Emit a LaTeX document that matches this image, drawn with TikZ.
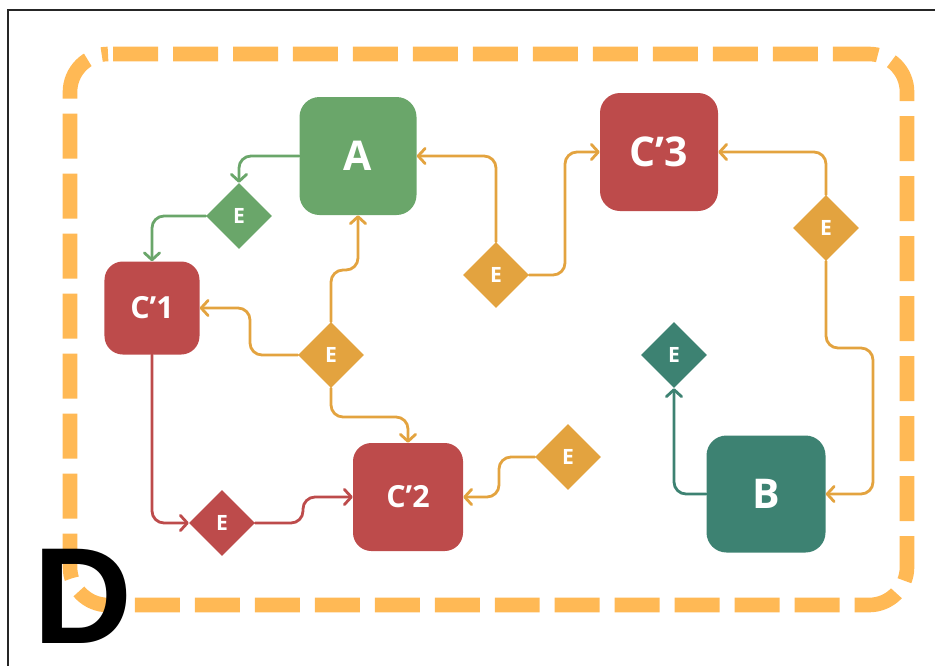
\documentclass[tikz,border=0pt]{standalone}
\usepackage{fontspec}
\setmainfont{Open Sans}
\newfontfamily\dfont{Liberation Sans}
\usetikzlibrary{shapes.geometric,arrows.meta}

\definecolor{agreen}{HTML}{6AA66A}
\definecolor{cred}{HTML}{BD4B4B}
\definecolor{eorange}{HTML}{E3A33F}
\definecolor{bteal}{HTML}{3D8272}
\definecolor{borderorange}{HTML}{FFB955}

\tikzset{
  box/.style={rounded corners=0.6cm, inner sep=0pt, text=white,
    font=\bfseries\fontsize{35}{36}\selectfont},
  smallbox/.style={box, rounded corners=0.55cm,
    font=\bfseries\fontsize{26}{27}\selectfont},
  gate/.style={diamond, inner sep=0pt, minimum width=1.98cm,
    minimum height=1.98cm, text=white,
    font=\bfseries\fontsize{18}{18}\selectfont},
  link/.style={line width=2.4pt, rounded corners=0.36cm, line cap=round,
    line join=round, -{Straight Barb[round,length=6pt,width=13pt]}},
}

\begin{document}
\begin{tikzpicture}[x=0.03cm,y=-0.03cm]
\useasboundingbox (0,0) rectangle (935,665);

% outer frame
\draw[line width=1.2pt, black!85] (8,670) -- (8,10) -- (940,10);

% dashed group boundary (y axis points down, so angles run clockwise)
\draw[borderorange, line width=12.5pt,
      dash pattern=on 38.4pt off 12.8pt, dash phase=46.9pt]
  (108,54) -- (869,54) arc[start angle=-90,end angle=0,radius=38]
  -- (907,567) arc[start angle=0,end angle=90,radius=38]
  -- (108,605) arc[start angle=90,end angle=180,radius=38]
  -- (70,92) arc[start angle=180,end angle=270,radius=38] -- cycle;

% components
\node[box, fill=agreen, minimum width=3.51cm, minimum height=3.54cm] (A) at (358,156) {A};
\node[box, fill=cred, minimum width=3.54cm, minimum height=3.54cm] (C3) at (659,152) {C’3};
\node[smallbox, fill=cred, minimum width=2.85cm, minimum height=2.79cm] (C1) at (152,308) {C’1};
\node[smallbox, fill=cred, minimum width=3.3cm, minimum height=3.24cm] (C2) at (408,497) {C’2};
\node[box, fill=bteal, minimum width=3.57cm, minimum height=3.51cm] (B) at (766,494) {B};

% events
\node[gate, fill=agreen] (E1) at (239,216) {E};
\node[gate, fill=eorange] (E2) at (496,275) {E};
\node[gate, fill=eorange] (E3) at (826,228) {E};
\node[gate, fill=eorange] (E4) at (331,355) {E};
\node[gate, fill=cred] (E5) at (222,523) {E};
\node[gate, fill=eorange] (E6) at (568,457) {E};
\node[gate, fill=bteal] (E7) at (674,355) {E};

% green links
\draw[link, agreen] (A.west) -| (E1.north);
\draw[link, agreen] (E1.west) -| (C1.north);

% orange links
\draw[link, eorange] (E4.north) -- (331,270) -- (358,270) -- (A.south);
\draw[link, eorange] (E4.west) -- (250,355) -- (250,308) -- (C1.east);
\draw[link, eorange] (E4.south) -- (331,417) -- (408,417) -- (C2.north);
\draw[link, eorange] (E6.west) -- (499,457) -- (499,497) -- (C2.east);
\draw[link, eorange] (E2.north) |- (A.east);
\draw[link, eorange] (E2.east) -- (565,275) |- (C3.west);
\draw[link, eorange] (E3.north) |- (C3.east);
\draw[link, eorange] (E3.south) -- (826,348) -- (873,348) -- (873,494) -- (B.east);

% red links
\draw[link, cred] (C1.south) |- (E5.west);
\draw[link, cred] (E5.east) -- (303,523) -- (303,497) -- (C2.west);

% teal link
\draw[link, bteal] (B.west) -| (E7.south);

% panel letter
\node[anchor=base west, inner sep=0pt, font=\dfont\bfseries\fontsize{117}{117}\selectfont]
  (D) at (33,643) {D};
\end{tikzpicture}
\end{document}
